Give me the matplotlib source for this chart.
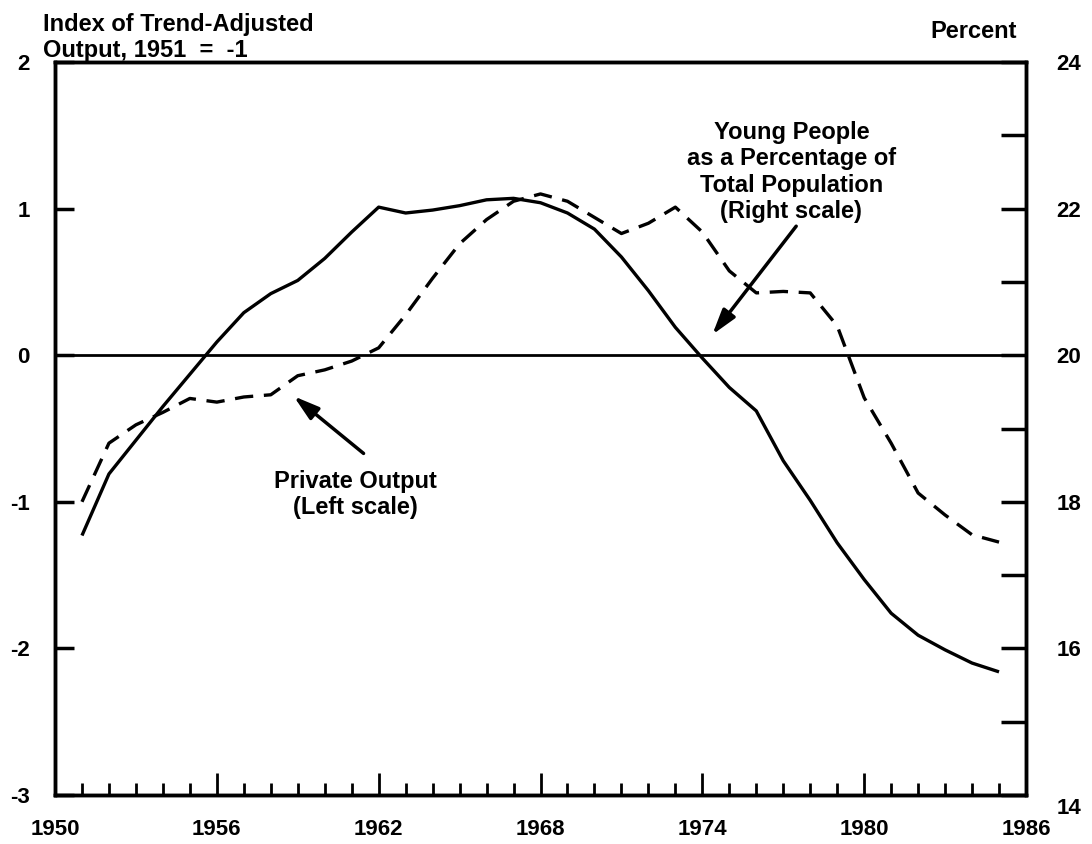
import matplotlib
matplotlib.use("Agg")
import matplotlib.pyplot as plt
import matplotlib.transforms as mtransforms
from matplotlib.ticker import MultipleLocator

plt.rcParams['font.family'] = ['Liberation Sans', 'DejaVu Sans']
plt.rcParams['font.weight'] = 'bold'

years = list(range(1951, 1986))
private_output = [-1.23, -0.81, -0.58, -0.35, -0.13, 0.09, 0.29, 0.42, 0.51, 0.66,
                  0.84, 1.01, 0.97, 0.99, 1.02, 1.06, 1.07, 1.04, 0.97, 0.86,
                  0.67, 0.44, 0.19, -0.02, -0.22, -0.38, -0.72, -0.99, -1.28, -1.53,
                  -1.76, -1.91, -2.01, -2.10, -2.16]
young_share = [18.0, 18.8, 19.05, 19.22, 19.41, 19.36, 19.43, 19.46, 19.72, 19.80,
               19.92, 20.10, 20.55, 21.05, 21.52, 21.85, 22.10, 22.20, 22.10, 21.88,
               21.66, 21.80, 22.02, 21.68, 21.15, 20.85, 20.87, 20.85, 20.40, 19.42,
               18.80, 18.12, 17.82, 17.55, 17.45]

x_ticks = [1950, 1956, 1962, 1968, 1974, 1980, 1986]
left_ticks = [-3, -2, -1, 0, 1, 2]
right_ticks = list(range(14, 25))
right_labels = [str(v) if (v % 2 == 0 and v != 14) else '' for v in right_ticks]

FS = 17
TFS = 16
fig = plt.figure(figsize=(10.92, 8.44), dpi=100)
ax = fig.add_axes([55/1092, 49/844, 971/1092, 733/844])
ax2 = ax.twinx()

ax.plot(years, private_output, color='black', lw=2.4, solid_capstyle='butt')
ax2.plot(years, young_share, color='black', lw=2.4, dashes=(5.5, 3.2))
ax.axhline(0, color='black', lw=2.0)

ax.set_xlim(1950, 1986)
ax.set_ylim(-3, 2)
ax2.set_ylim(14, 24)

ax.set_xticks(x_ticks)
ax.set_xticklabels([str(v) for v in x_ticks])
ax.xaxis.set_minor_locator(MultipleLocator(1))
ax.set_yticks(left_ticks)
ax.set_yticklabels([str(v) for v in left_ticks])
ax2.set_yticks(right_ticks)
ax2.set_yticklabels(right_labels)

ax.tick_params(axis='x', which='major', direction='in', length=16, width=2,
               pad=17, labelsize=TFS)
ax.tick_params(axis='x', which='minor', direction='in', length=8.5, width=2)
ax.tick_params(axis='y', which='major', direction='in', length=14, width=2.5,
               pad=18, labelsize=TFS)
ax2.tick_params(axis='y', which='major', direction='in', length=18, width=2.5,
                pad=22, labelsize=TFS)
for a in (ax, ax2):
    for s in a.spines.values():
        s.set_linewidth(2.5)
    for lab in a.get_xticklabels() + a.get_yticklabels():
        lab.set_fontweight('bold')

# bottom right-scale label sits a little lower in the original
off = mtransforms.ScaledTranslation(31/100, -14/100, fig.dpi_scale_trans)
ax2.text(1, 14, "14", transform=mtransforms.blended_transform_factory(ax2.transAxes, ax2.transData) + off,
         ha='left', va='center', fontsize=TFS, fontweight='bold')

fig.text(43/1092, 1 - 31/844, "Index of Trend-Adjusted", fontsize=FS,
         fontweight='bold', va='baseline', ha='left')
fig.text(43/1092, 1 - 57/844, "Output, 1951  =  -1", fontsize=FS,
         fontweight='bold', va='baseline', ha='left')
fig.text(1017/1092, 1 - 38/844, "Percent", fontsize=FS, fontweight='bold',
         va='baseline', ha='right')

arrow_style = dict(arrowstyle='-|>,head_length=0.9,head_width=0.27',
                   lw=2.5, color='black', mutation_scale=17, shrinkA=0, shrinkB=0)

ax.text(1977.3, 1.25, "Young People\nas a Percentage of\nTotal Population\n(Right scale)",
        ha='center', va='center', fontsize=FS, fontweight='bold', linespacing=1.2)
ax.annotate("", xy=(1974.37, 0.14), xytext=(1977.48, 0.88), arrowprops=arrow_style)

ax.text(1961.15, -0.95, "Private Output\n(Left scale)", ha='center', va='center',
        fontsize=FS, fontweight='bold', linespacing=1.2)
ax.annotate("", xy=(1958.85, -0.28), xytext=(1961.44, -0.67), arrowprops=arrow_style)

fig.savefig("out.png", dpi=100)
